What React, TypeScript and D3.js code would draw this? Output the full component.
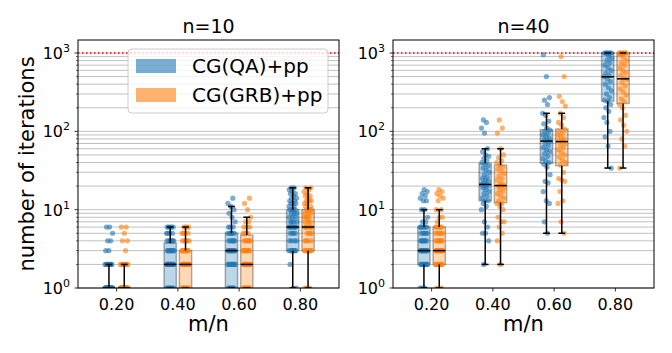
import React from "react";
import * as d3 from "d3";

// m/n positions and labels
const positions = [0.2, 0.4, 0.6, 0.8];
const xTickLabels = ["0.20", "0.40", "0.60", "0.80"];
const yTickExponents = [0, 1, 2, 3];
const methods = ["CG(QA)+pp", "CG(GRB)+pp"];
const colors = ["#1f77b4", "#ff7f0e"];
const titles = ["n=10", "n=40"];
const limitValue = 1000;

// box stats per position: [whisker low, q1, median, q3, whisker high]
const qaN10Stats = [[1, 1, 1, 1, 2], [1, 1, 2, 3.75, 6], [1, 1, 3, 5, 11], [1, 3, 6, 10, 19]];
const grbN10Stats = [[1, 1, 1, 1, 2], [1, 1, 2, 3, 6], [1, 1, 2, 4.75, 8], [1, 3, 6, 10, 19]];
const qaN40Stats = [[1, 2, 3, 6, 10], [2, 13, 21, 39, 60], [5, 39, 75, 105, 170], [34, 243, 497, 1000, 1000]];
const grbN40Stats = [[1, 2, 3, 6, 10], [2, 12.3, 20.3, 37, 60], [5, 36.5, 74, 107, 170], [34, 227, 468, 1000, 1000]];

// raw iteration counts, n=10
const qaN10_020 = [1, 1, 1, 1, 1, 1, 1, 1, 1, 1, 1, 1, 1, 1, 1, 1, 1, 1, 1, 1, 1, 1, 1, 1, 1, 1, 1, 1, 1, 1, 2, 2, 2, 2, 2, 2, 2, 2, 3, 3, 4, 4, 5, 6, 6];
const grbN10_020 = [1, 1, 1, 1, 1, 1, 1, 1, 1, 1, 1, 1, 1, 1, 1, 1, 1, 1, 1, 1, 1, 1, 1, 1, 1, 1, 1, 1, 1, 1, 2, 2, 2, 2, 2, 2, 2, 2, 3, 4, 4, 5, 6, 6];
const qaN10_040 = [1, 1, 1, 1, 1, 1, 1, 1, 2, 2, 2, 2, 2, 2, 2, 2, 2, 2, 2, 2, 2, 2, 3, 3, 3, 3, 3, 3, 3, 3, 4, 4, 4, 4, 4, 4, 4, 5, 5, 5, 5, 6, 6, 6, 6, 6];
const grbN10_040 = [1, 1, 1, 1, 1, 1, 1, 1, 1, 1, 2, 2, 2, 2, 2, 2, 2, 2, 2, 2, 2, 2, 2, 2, 2, 2, 3, 3, 3, 3, 3, 3, 3, 3, 3, 4, 4, 4, 4, 4, 5, 5, 5, 5, 6, 6, 6, 6];
const qaN10_060 = [1, 1, 1, 1, 1, 1, 1, 2, 2, 2, 2, 2, 2, 2, 2, 2, 3, 3, 3, 3, 3, 3, 3, 3, 3, 3, 4, 4, 4, 4, 4, 4, 5, 5, 5, 5, 5, 5, 6, 6, 6, 7, 8, 9, 10, 11, 12, 14];
const grbN10_060 = [1, 1, 1, 1, 1, 1, 1, 1, 1, 2, 2, 2, 2, 2, 2, 2, 2, 2, 2, 2, 2, 3, 3, 3, 3, 3, 3, 3, 3, 4, 4, 4, 4, 4, 4, 5, 5, 5, 5, 6, 6, 6, 7, 7, 8, 10, 12, 14];
const qaN10_080 = [1, 1, 2, 3, 3, 3, 3, 3, 3, 3, 4, 4, 4, 4, 5, 5, 5, 5, 6, 6, 6, 6, 6, 6, 6, 7, 7, 7, 7, 8, 8, 8, 9, 9, 9, 10, 10, 10, 10, 11, 11, 12, 12, 12, 13, 13, 14, 14, 15, 16, 16, 17, 18, 19, 19];
const grbN10_080 = [1, 1, 1, 3, 3, 3, 3, 3, 3, 3, 4, 4, 4, 4, 5, 5, 5, 5, 6, 6, 6, 6, 6, 6, 6, 7, 7, 7, 8, 8, 8, 8, 9, 9, 9, 10, 10, 10, 10, 11, 11, 12, 12, 13, 13, 13, 14, 15, 15, 16, 17, 18, 19, 19];

// raw iteration counts, n=40
const qaN40_020 = [1, 1, 1, 2, 2, 2, 2, 2, 2, 2, 2, 2, 3, 3, 3, 3, 3, 3, 3, 3, 3, 3, 4, 4, 4, 4, 4, 4, 4, 5, 5, 5, 5, 5, 6, 6, 6, 6, 6, 6, 7, 7, 8, 10, 10, 13, 13, 14, 15, 16, 17, 18];
const grbN40_020 = [1, 1, 2, 2, 2, 2, 2, 2, 2, 2, 2, 3, 3, 3, 3, 3, 3, 3, 3, 3, 3, 3, 4, 4, 4, 4, 4, 4, 4, 5, 5, 5, 5, 5, 6, 6, 6, 6, 6, 7, 8, 8, 10, 10, 13, 14, 15, 16, 17, 18];
const qaN40_040 = [2, 4, 5, 5, 6, 7, 10, 11, 12, 13, 13, 14, 15, 16, 17, 18, 19, 20, 20, 21, 21, 22, 23, 24, 25, 26, 28, 30, 32, 34, 36, 38, 40, 42, 45, 48, 50, 55, 60, 95, 110, 130, 140];
const grbN40_040 = [2, 4, 5, 6, 7, 7, 8, 10, 11, 12, 12, 13, 14, 15, 16, 17, 18, 19, 20, 20, 21, 22, 24, 25, 27, 29, 31, 33, 35, 37, 40, 42, 46, 50, 60, 95, 110, 140];
const qaN40_060 = [5, 7, 12, 13, 17, 22, 23, 28, 35, 38, 40, 42, 45, 48, 52, 55, 58, 62, 66, 70, 74, 75, 78, 82, 86, 90, 95, 100, 104, 110, 125, 135, 160, 170, 220, 250, 270, 500, 950];
const grbN40_060 = [5, 7, 12, 13, 17, 23, 24, 25, 30, 37, 40, 43, 47, 50, 54, 58, 62, 66, 70, 74, 76, 80, 85, 90, 96, 100, 106, 120, 130, 150, 170, 210, 240, 280, 500, 900];
const qaN40_080 = [34, 65, 85, 100, 130, 150, 180, 200, 220, 240, 250, 270, 300, 330, 360, 400, 430, 470, 500, 520, 560, 600, 650, 700, 750, 800, 850, 900, 1000, 1000, 1000, 1000, 1000, 1000, 1000, 1000];
const grbN40_080 = [34, 65, 80, 100, 120, 140, 160, 200, 220, 240, 260, 290, 320, 350, 380, 420, 460, 480, 520, 560, 600, 650, 700, 750, 800, 880, 950, 1000, 1000, 1000, 1000, 1000, 1000, 1000, 1000];

const panels = [
  { title: titles[0], stats: [qaN10Stats, grbN10Stats], points: [[qaN10_020, qaN10_040, qaN10_060, qaN10_080], [grbN10_020, grbN10_040, grbN10_060, grbN10_080]] },
  { title: titles[1], stats: [qaN40Stats, grbN40Stats], points: [[qaN40_020, qaN40_040, qaN40_060, qaN40_080], [grbN40_020, grbN40_040, grbN40_060, grbN40_080]] },
];

const W = 672, H = 353;
const top = 40, bottom = 288;
const panelLefts = [78, 393];
const panelWidth = 261;
const font = "DejaVu Sans";
const offset = 0.025, boxW = 0.04, capW = 0.022, jitterW = 0.026;

const y = d3.scaleLog().domain([1, 1466]).range([bottom, top]);
const gridTicks = y.ticks();

const Panel = ({ panel, left }: any) => {
  const x = d3.scaleLinear().domain([0.074, 0.926]).range([left, left + panelWidth]);
  const right = left + panelWidth;
  const cx = left + panelWidth / 2;
  return (
    <g>
      <defs>
        <clipPath id={`clip${left}`}>
          <rect x={left} y={top} width={panelWidth} height={bottom - top} />
        </clipPath>
      </defs>
      {gridTicks.map((t, i) => (
        <line key={i} x1={left} x2={right} y1={y(t)} y2={y(t)} stroke="#b0b0b0" strokeWidth={0.8} />
      ))}
      <line x1={left} x2={right} y1={y(limitValue)} y2={y(limitValue)} stroke="red" strokeWidth={1.5} strokeDasharray="1.5,2.5" />
      <g clipPath={`url(#clip${left})`}>
        {panel.stats.map((st: number[][], m: number) =>
          st.map((s, p) => {
            const c = x(positions[p] + (m === 0 ? -offset : offset));
            const hw = (x(boxW) - x(0)) / 2;
            return (
              <rect key={`b${m}${p}`} x={c - hw} y={y(s[3])} width={2 * hw} height={Math.max(y(s[1]) - y(s[3]), 0)}
                fill={colors[m]} fillOpacity={0.3} stroke="#000" strokeOpacity={0.3} strokeWidth={1.5} />
            );
          })
        )}
        {panel.points.map((grp: number[][], m: number) =>
          grp.map((vals, p) =>
            vals.map((v, i) => {
              const j = (((i * 0.618034 + p * 0.31 + m * 0.17) % 1) - 0.5) * jitterW;
              return (
                <circle key={`p${m}${p}${i}`} cx={x(positions[p] + (m === 0 ? -offset : offset) + j)} cy={y(v)} r={2.6}
                  fill={colors[m]} fillOpacity={0.6} />
              );
            })
          )
        )}
        {panel.stats.map((st: number[][], m: number) =>
          st.map((s, p) => {
            const c = x(positions[p] + (m === 0 ? -offset : offset));
            const hw = (x(boxW) - x(0)) / 2;
            const cw = (x(capW) - x(0)) / 2;
            return (
              <g key={`w${m}${p}`} stroke="#000" strokeWidth={1.5}>
                <line x1={c} x2={c} y1={y(s[0])} y2={y(s[1])} />
                <line x1={c} x2={c} y1={y(s[3])} y2={y(s[4])} />
                <line x1={c - cw} x2={c + cw} y1={y(s[0])} y2={y(s[0])} />
                <line x1={c - cw} x2={c + cw} y1={y(s[4])} y2={y(s[4])} />
                <line x1={c - hw} x2={c + hw} y1={y(s[2])} y2={y(s[2])} />
              </g>
            );
          })
        )}
      </g>
      <rect x={left} y={top} width={panelWidth} height={bottom - top} fill="none" stroke="#000" strokeWidth={1} />
      {gridTicks.map((t, i) => {
        const major = yTickExponents.some((e) => Math.abs(Math.pow(10, e) - t) < 1e-9);
        return <line key={`yt${i}`} x1={left - (major ? 3.5 : 2)} x2={left} y1={y(t)} y2={y(t)} stroke="#000" strokeWidth={major ? 0.8 : 0.6} />;
      })}
      {yTickExponents.map((e) => (
        <text key={`yl${e}`} x={left - 8} y={y(Math.pow(10, e)) + 6} textAnchor="end" fontFamily={font} fontSize={16}>
          10<tspan fontSize={11} dy={-7}>{e}</tspan>
        </text>
      ))}
      {positions.map((p, i) => (
        <g key={`xt${i}`}>
          <line x1={x(p)} x2={x(p)} y1={bottom} y2={bottom + 3.5} stroke="#000" strokeWidth={0.8} />
          <text x={x(p)} y={310} textAnchor="middle" fontFamily={font} fontSize={16}>{xTickLabels[i]}</text>
        </g>
      ))}
      <text x={cx} y={331} textAnchor="middle" fontFamily={font} fontSize={21}>m/n</text>
      <text x={cx} y={33} textAnchor="middle" fontFamily={font} fontSize={19}>{panel.title}</text>
    </g>
  );
};

const Legend = () => (
  <g>
    <rect x={128} y={49} width={200} height={64} rx={4} fill="#fff" fillOpacity={0.8} stroke="#cccccc" strokeWidth={1} />
    {methods.map((m, i) => (
      <g key={m}>
        <rect x={136} y={59 + i * 29} width={40} height={14} fill={colors[i]} fillOpacity={0.6} />
        <text x={192} y={73 + i * 29} fontFamily={font} fontSize={20}>{m}</text>
      </g>
    ))}
  </g>
);

export default function App() {
  return (
    <svg width={W} height={H} style={{ position: "absolute", left: 0, top: 0, background: "#fff" }}>
      {panels.map((p, i) => (
        <Panel key={i} panel={p} left={panelLefts[i]} />
      ))}
      <Legend />
      <text transform={`translate(34,164) rotate(-90)`} textAnchor="middle" fontFamily={font} fontSize={21}>
        number of iterations
      </text>
    </svg>
  );
}
